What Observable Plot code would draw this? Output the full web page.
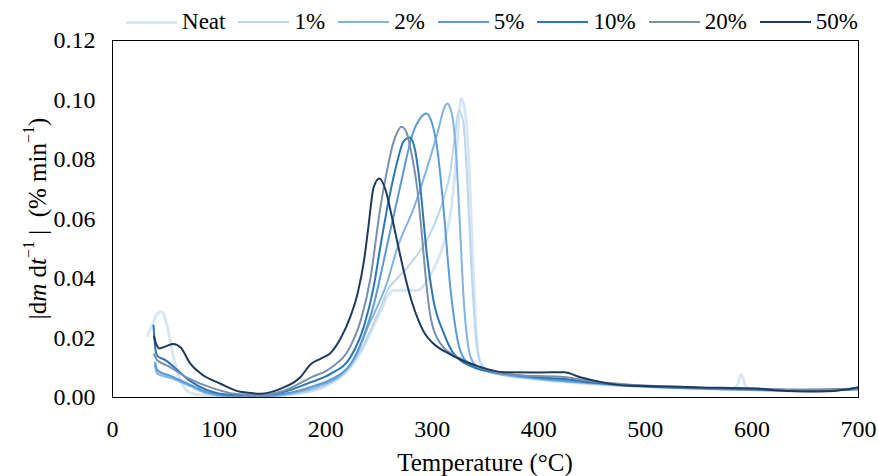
<!DOCTYPE html>
<html>
<head>
<meta charset="utf-8">
<script src="https://cdn.jsdelivr.net/npm/d3@7"></script>
<script src="https://cdn.jsdelivr.net/npm/@observablehq/plot@0.6"></script>
<style>
  html, body { margin: 0; padding: 0; background: #fff; }
  #wrap { width: 878px; height: 476px; position: relative; font-family: "Liberation Serif", "Times New Roman", serif; }
  #legend { height: 30px; display: flex; justify-content: flex-end; align-items: flex-end; padding-right: 20px; box-sizing: border-box; }
  .item { display: flex; align-items: center; height: 16px; margin-left: 13px; font-size: 23px; line-height: 16px; color: #000; }
  .sw { width: 51px; height: 2px; margin-right: 5px; }
</style>
</head>
<body>
<div id="wrap">
  <div id="legend"></div>
  <div id="chart"></div>
</div>
<script>
const series = ["Neat", "1%", "2%", "5%", "10%", "20%", "50%"];
const colors = ["#d6e6f5", "#bcd6ee", "#80b2e2", "#5b9bd5", "#2e75b6", "#7a90ab", "#1f3a5a"];
const xTicks = [0, 100, 200, 300, 400, 500, 600, 700];
const yTicks = [0, 0.02, 0.04, 0.06, 0.08, 0.10, 0.12];

const neatT = [33, 38, 42, 46, 49, 52, 57, 62, 68, 76, 90, 110, 140, 175, 200, 220, 235, 245, 251.5, 258, 264, 275, 286, 298, 310, 318, 322, 325, 327, 330, 334, 338, 341, 345, 355, 400, 450, 500, 580, 586, 590, 594, 600, 650, 700];
const neatV = [0.0208, 0.025, 0.0282, 0.0288, 0.027, 0.023, 0.014, 0.0075, 0.003, 0.0012, 0.0006, 0.0003, 0.0003, 0.0014, 0.0038, 0.0088, 0.0165, 0.024, 0.029, 0.034, 0.036, 0.036, 0.036, 0.041, 0.051, 0.064, 0.078, 0.093, 0.1005, 0.098, 0.082, 0.048, 0.024, 0.012, 0.0085, 0.006, 0.0045, 0.0036, 0.0028, 0.004, 0.0078, 0.004, 0.0026, 0.0022, 0.0028];

const p1T = [40, 42, 55, 73, 89, 110, 140, 175, 200, 220, 235, 245, 251.5, 258, 267, 275, 286, 298, 310, 317, 321, 325, 329, 333, 337, 341, 346, 355, 400, 450, 500, 550, 600, 650, 700];
const p1V = [0.012, 0.0095, 0.007, 0.004, 0.0013, 0.0003, 0.0003, 0.0014, 0.004, 0.009, 0.017, 0.025, 0.030, 0.036, 0.040, 0.043, 0.048, 0.055, 0.066, 0.076, 0.087, 0.0965, 0.093, 0.072, 0.042, 0.020, 0.011, 0.0085, 0.0062, 0.0048, 0.0036, 0.003, 0.0026, 0.0022, 0.0028];

const p2T = [40, 42, 55, 73, 89, 110, 140, 170, 195, 215, 230, 240, 251.5, 258, 267, 283, 295, 305, 311, 314, 318, 322, 326, 329, 333, 338, 350, 400, 450, 500, 550, 600, 650, 700];
const p2V = [0.0105, 0.008, 0.0065, 0.0038, 0.0014, 0.0004, 0.0004, 0.0015, 0.004, 0.0078, 0.015, 0.024, 0.033, 0.039, 0.050, 0.064, 0.077, 0.089, 0.097, 0.0988, 0.096, 0.084, 0.058, 0.036, 0.019, 0.012, 0.009, 0.0062, 0.0047, 0.0036, 0.003, 0.0025, 0.0022, 0.0028];

const p5T = [40, 42, 55, 73, 89, 110, 140, 165, 190, 210, 223, 236, 245, 251.5, 260, 270, 282, 289, 294.5, 300, 305, 310, 317, 324, 330, 345, 370, 400, 430, 450, 500, 550, 600, 650, 700];
const p5V = [0.0115, 0.009, 0.0072, 0.0042, 0.0018, 0.0006, 0.0005, 0.0015, 0.004, 0.007, 0.011, 0.021, 0.031, 0.041, 0.055, 0.071, 0.089, 0.094, 0.0955, 0.092, 0.083, 0.066, 0.037, 0.019, 0.013, 0.0095, 0.0078, 0.0065, 0.0055, 0.005, 0.0038, 0.003, 0.0026, 0.0022, 0.0028];

const p10T = [38.5, 40, 42, 50, 60, 73, 89, 110, 140, 160, 185, 205, 223, 236, 245, 251.5, 259, 267, 273, 279, 284, 289, 295, 301, 311, 320, 340, 360, 400, 430, 450, 500, 550, 600, 650, 700];
const p10V = [0.0242, 0.017, 0.014, 0.0125, 0.0095, 0.0055, 0.0025, 0.001, 0.0009, 0.0018, 0.005, 0.008, 0.0134, 0.024, 0.037, 0.051, 0.066, 0.079, 0.086, 0.0874, 0.083, 0.070, 0.048, 0.033, 0.0215, 0.0148, 0.010, 0.0085, 0.0068, 0.006, 0.005, 0.0038, 0.0032, 0.0028, 0.0024, 0.003];

const p20T = [39, 42, 51, 70, 92, 114, 135, 160, 186, 205, 223, 233, 242, 251, 258, 263, 267, 271, 276, 280, 286, 290, 294, 298, 308, 327, 350, 380, 420, 450, 500, 550, 600, 650, 700];
const p20V = [0.0145, 0.0125, 0.0108, 0.0067, 0.0034, 0.0013, 0.0008, 0.0022, 0.0067, 0.010, 0.017, 0.026, 0.040, 0.063, 0.077, 0.085, 0.089, 0.091, 0.089, 0.083, 0.070, 0.056, 0.040, 0.028, 0.018, 0.013, 0.0095, 0.0075, 0.007, 0.0055, 0.004, 0.0033, 0.003, 0.0027, 0.003];

const p50T = [39, 41, 44, 50, 57, 64, 73, 83, 101, 120, 139, 158, 176, 186, 195, 205, 214, 223, 230, 236, 240, 245, 250.5, 256, 262, 268, 275, 281, 287, 293, 300, 317, 339, 367, 400, 424, 439, 461, 483, 520, 552, 602, 633, 664, 690, 700];
const p50V = [0.0205, 0.018, 0.0165, 0.0172, 0.018, 0.0168, 0.0114, 0.008, 0.0047, 0.0019, 0.0013, 0.003, 0.0067, 0.0112, 0.013, 0.0151, 0.0198, 0.027, 0.035, 0.046, 0.057, 0.0706, 0.0736, 0.070, 0.061, 0.051, 0.040, 0.032, 0.026, 0.0215, 0.0185, 0.0145, 0.011, 0.0085, 0.0084, 0.0085, 0.0068, 0.005, 0.004, 0.0037, 0.0034, 0.003, 0.0022, 0.002, 0.0028, 0.0035];

const temps = [neatT, p1T, p2T, p5T, p10T, p20T, p50T];
const vals = [neatV, p1V, p2V, p5V, p10V, p20V, p50V];

const data = [];
series.forEach((s, i) => temps[i].forEach((t, j) => data.push({series: s, T: t, v: vals[i][j]})));

// legend
const leg = document.getElementById("legend");
series.forEach((s, i) => {
  const it = document.createElement("div");
  it.className = "item";
  const sw = document.createElement("span");
  sw.className = "sw";
  sw.style.background = colors[i];
  if (i === 0) sw.style.height = "3px";
  it.appendChild(sw);
  it.appendChild(document.createTextNode(s));
  leg.appendChild(it);
});

const FONT = "'Liberation Serif', 'Times New Roman', serif";
const W = 878, H = 446, mT = 10, mB = 79, mL = 112, mR = 20;
const chart = Plot.plot({
  width: W, height: H,
  marginTop: mT, marginBottom: mB, marginLeft: mL, marginRight: mR,
  style: {fontFamily: FONT, fontSize: "24px", color: "#000", background: "#fff", overflow: "visible"},
  x: {domain: [0, 700]},
  y: {domain: [0, 0.12]},
  color: {domain: series, range: colors},
  marks: [
    Plot.axisX({ticks: xTicks, tickSize: 0, tickPadding: 22, label: null, fontSize: 24, fontVariant: "normal"}),
    Plot.axisY({ticks: yTicks, tickSize: 0, tickPadding: 17, tickFormat: d3.format(".2f"), label: null, fontSize: 24, fontVariant: "normal"}),
    Plot.line(data, {x: "T", y: "v", z: "series", stroke: "series", strokeWidth: d => d.series === "Neat" ? 2.8 : 2, curve: "monotone-x", clip: true}),
    Plot.frame({stroke: "#000", strokeWidth: 1})
  ]
});
document.getElementById("chart").appendChild(chart);

const svg = d3.select(chart);
svg.selectAll("g, text").attr("font-family", null).style("font-family", FONT);

const cy = mT + (H - mT - mB) / 2;
const yl = svg.append("text")
  .attr("transform", `translate(37, ${cy}) rotate(-90)`)
  .attr("text-anchor", "middle")
  .attr("dominant-baseline", "central")
  .attr("font-size", 25)
  .style("font-family", FONT)
  .attr("fill", "#000");
yl.append("tspan").text("|d");
yl.append("tspan").attr("font-style", "italic").text("m");
yl.append("tspan").text(" d");
yl.append("tspan").attr("font-style", "italic").text("t");
yl.append("tspan").attr("dy", -9).attr("font-size", 16).text("\u22121");
yl.append("tspan").attr("dy", 9).text(" |  (% min");
yl.append("tspan").attr("dy", -9).attr("font-size", 16).text("\u22121");
yl.append("tspan").attr("dy", 9).text(")");

svg.append("text")
  .attr("x", mL + (W - mL - mR) / 2)
  .attr("y", 432)
  .attr("text-anchor", "middle")
  .attr("dominant-baseline", "central")
  .attr("font-size", 25)
  .style("font-family", FONT)
  .attr("fill", "#000")
  .text("Temperature (\u00b0C)");
</script>
</body>
</html>
